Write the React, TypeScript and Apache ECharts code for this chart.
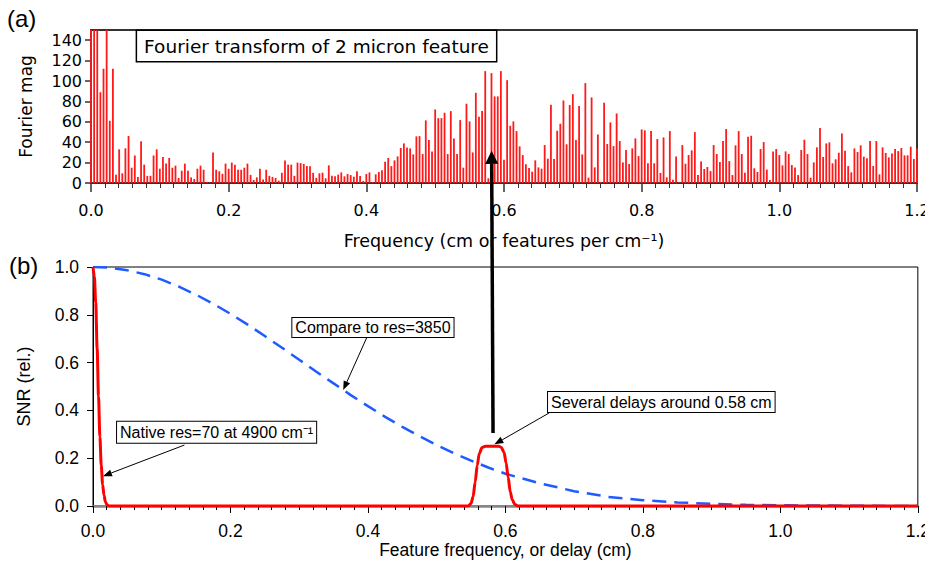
import React, { useEffect, useRef } from "react";
import * as echarts from "echarts";

// ---------- data ----------
// bin width of the Fourier transform (cm^-1); bar i sits at i * FREQ_STEP
const FREQ_STEP = 1 / 220;

// Fourier magnitude per bin (bars above 150 are clipped by the axis)
const FOURIER_MAG_A = [
  150, 150, 150, 89, 112, 150, 61, 112, 8, 33,
  9.5, 34, 46, 15, 27, 6, 41, 18, 7, 7,
  27, 33, 14, 25.5, 19, 24.5, 15, 17, 5, 12,
  19, 12, 5.5, 4, 14, 17, 13, 1, 0.5, 30,
  13, 11.5, 9, 19, 14, 20, 18, 13, 13, 15,
  19, 8, 3, 5.5, 14, 3.5, 13, 7, 6, 5,
  2.3, 10, 22, 18, 18, 7, 20, 19.5, 18.6, 16.6,
  16.5, 10, 5,
];
const FOURIER_MAG_B = [
  9.5, 10.1, 4.6, 17.3, 7.2, 6.5, 8.2, 10.4, 6.5, 8.8,
  7.8, 6.2, 11.4, 6.9, 2, 8.8, 10.4, 1, 8.5, 10.8,
  12.4, 20.9, 24.5, 16.6, 22.2, 26.1, 34.3, 38.8, 34.9, 33.9,
  28, 45.7, 46, 28.4, 61.4, 42.1, 31, 72.1, 63.6, 63.6,
  68.9, 28.4, 70.5, 43.7, 28.4, 61.7, 15, 77.7, 60.4, 30,
  88.4, 65, 70.5, 109.7, 4.6, 107.7, 84.9, 84.9, 109.7, 22.8,
  100.8, 56.1, 60.4, 50.9, 35.9, 27.4, 18.3, 14.7, 11.1, 22.2,
  15.3, 14, 37.2, 23.8, 76.7, 23.5, 51.2, 58.1, 80.9, 37.9,
  76.4, 87.1, 42.1, 75.4, 28, 97.9, 5.2, 83.9, 15.3, 47.6,
];
const FOURIER_MAG_C = [
  1, 78.7, 38.2, 59.4, 36.2, 68.2, 41.1, 20.2, 32.3, 18.6,
  33.9, 43.7, 26.4, 52.5, 51.6, 19.3, 50.9, 19.3, 43.1, 9.8,
  44.7, 5.5, 50.9, 3.3, 26.1, 0.5, 37.2, 18.9, 27.4, 32,
  49.9, 7.8, 21.2, 13.7, 15.7, 11.7, 37.2, 28.4, 20.6, 41.1,
  52.9, 21.5, 7.8, 36.9, 50.9, 28.4, 10.1, 45.4, 46.3, 14.4,
  10.8, 33.3, 40.1, 13.1, 2.9, 31, 33.3, 27.4, 17.3, 31,
  28.4, 17.6, 15.3, 7.8, 32.3, 42.4, 28.4, 5.2, 20.2, 34.9,
  53.9, 25.5, 38.8, 39.8, 19.3, 23.2, 29.7, 48.6, 31.7, 16.6,
  10.4, 33.9, 30.4, 36.9, 25.8, 24.2, 41.1, 16.6, 41.1, 8.5,
  34.9, 29.4, 25.1, 29, 33.3, 31.3, 34.3, 27.1, 27.1, 35.6,
  23.5, 33.9,
];
const FOURIER_MAG = [...FOURIER_MAG_A, ...FOURIER_MAG_B, ...FOURIER_MAG_C];

// native resolution SNR curve (red)
const NATIVE_X = [
  0, 0.002, 0.004, 0.006, 0.008, 0.01, 0.012, 0.014, 0.016, 0.018, 0.02, 0.023,
  0.546, 0.55, 0.553, 0.556, 0.559, 0.562, 0.566, 0.571, 0.58, 0.59, 0.594,
  0.598, 0.601, 0.604, 0.607, 0.61, 0.614, 0.618, 1.2,
];
const NATIVE_Y = [
  1, 0.96, 0.85, 0.66, 0.46, 0.29, 0.17, 0.09, 0.045, 0.018, 0.006, 0,
  0, 0.01, 0.04, 0.1, 0.17, 0.22, 0.245, 0.25, 0.25, 0.25, 0.245,
  0.225, 0.18, 0.12, 0.06, 0.025, 0.006, 0, 0,
];

// compare res=3850 SNR curve (blue dashed)
const COMPARE_X = [
  0, 0.025, 0.05, 0.075, 0.1, 0.125, 0.15, 0.175, 0.2, 0.225, 0.25, 0.275,
  0.3, 0.325, 0.35, 0.375, 0.4, 0.425, 0.45, 0.475, 0.5, 0.525, 0.55, 0.575,
  0.6, 0.625, 0.65, 0.7, 0.75, 0.8, 0.85, 0.9, 0.95, 1.0, 1.1, 1.2,
];
const COMPARE_Y = [
  1, 0.997, 0.986, 0.97, 0.947, 0.918, 0.884, 0.846, 0.804, 0.759, 0.711, 0.662,
  0.612, 0.562, 0.513, 0.464, 0.418, 0.373, 0.331, 0.292, 0.255, 0.221, 0.19, 0.161,
  0.135, 0.115, 0.095, 0.062, 0.038, 0.024, 0.015, 0.009, 0.005, 0.003, 0.001, 0,
];

const TOP_Y_TICK_INTERVAL = 20;
const X_TICK_INTERVAL = 0.2;
const SNR_TICK_INTERVAL = 0.2;

const TOP_FONT = "'DejaVu Sans', Verdana, sans-serif";
const BOT_FONT = "'Liberation Sans', Arial, Helvetica, sans-serif";

function arrow(
  tail: number[],
  tip: number[],
  lineWidth: number,
  headLen: number,
  headHalf: number
) {
  const dx = tip[0] - tail[0];
  const dy = tip[1] - tail[1];
  const len = Math.sqrt(dx * dx + dy * dy) || 1;
  const ux = dx / len;
  const uy = dy / len;
  const bx = tip[0] - ux * headLen;
  const by = tip[1] - uy * headLen;
  const px = -uy;
  const py = ux;
  return [
    {
      type: "line",
      z: 100,
      shape: { x1: tail[0], y1: tail[1], x2: bx, y2: by },
      style: { stroke: "#000", lineWidth },
    },
    {
      type: "polygon",
      z: 100,
      shape: {
        points: [
          [tip[0], tip[1]],
          [bx + px * headHalf, by + py * headHalf],
          [bx - px * headHalf, by - py * headHalf],
        ],
      },
      style: { fill: "#000" },
    },
  ];
}

export default function App() {
  const ref = useRef<HTMLDivElement>(null);

  useEffect(() => {
    if (!ref.current) return;
    const chart = echarts.init(ref.current, undefined, { renderer: "svg" });

    const barData = FOURIER_MAG.map((v, i) => [i * FREQ_STEP, v]);
    const nativeData = NATIVE_X.map((x, i) => [x, NATIVE_Y[i]]);
    const compareData = COMPARE_X.map((x, i) => [x, COMPARE_Y[i]]);

    const option: any = {
      animation: false,
      grid: [
        {
          left: 91,
          top: 30,
          width: 826,
          height: 153,
          show: true,
          borderColor: "#333",
          borderWidth: 2,
          backgroundColor: "transparent",
        },
        {
          left: 93,
          top: 267,
          width: 825,
          height: 239,
          show: true,
          borderColor: "#000",
          borderWidth: 1,
          backgroundColor: "transparent",
        },
      ],
      xAxis: [
        {
          type: "value",
          gridIndex: 0,
          min: 0,
          max: 1.2,
          interval: X_TICK_INTERVAL,
          axisLine: { show: true, onZero: false, lineStyle: { color: "#333", width: 2 } },
          axisTick: { show: true, length: 9, lineStyle: { color: "#333", width: 1.5 } },
          minorTick: { show: true, splitNumber: 10, length: 5, lineStyle: { color: "#333", width: 1 } },
          splitLine: { show: false },
          axisLabel: {
            margin: 19,
            color: "#000",
            fontFamily: TOP_FONT,
            fontSize: 16,
            formatter: (v: number) => v.toFixed(1),
          },
          name: "Frequency (cm or features per cm\u207B\u00B9)",
          nameLocation: "middle",
          nameGap: 49,
          nameTextStyle: { color: "#000", fontFamily: TOP_FONT, fontSize: 17.5 },
        },
        {
          type: "value",
          gridIndex: 1,
          min: 0,
          max: 1.2,
          interval: X_TICK_INTERVAL,
          axisLine: { show: true, onZero: false, lineStyle: { color: "#888", width: 2.5 } },
          axisTick: { show: true, length: 7, lineStyle: { color: "#000", width: 1 } },
          minorTick: { show: true, splitNumber: 10, length: 4, lineStyle: { color: "#000", width: 1 } },
          splitLine: { show: false },
          axisLabel: {
            margin: 16,
            color: "#000",
            fontFamily: BOT_FONT,
            fontSize: 17.5,
            formatter: (v: number) => v.toFixed(1),
          },
          name: "Feature frequency, or delay (cm)",
          nameLocation: "middle",
          nameGap: 33,
          nameTextStyle: { color: "#000", fontFamily: BOT_FONT, fontSize: 17.5 },
        },
      ],
      yAxis: [
        {
          type: "value",
          gridIndex: 0,
          min: 0,
          max: 150,
          interval: TOP_Y_TICK_INTERVAL,
          axisLine: { show: true, lineStyle: { color: "#333", width: 2 } },
          axisTick: { show: true, length: 6, lineStyle: { color: "#333", width: 1.5 } },
          splitLine: { show: false },
          axisLabel: {
            margin: 9,
            color: "#000",
            fontFamily: TOP_FONT,
            fontSize: 16,
            showMaxLabel: false,
          },
          name: "Fourier mag",
          nameLocation: "middle",
          nameGap: 57,
          nameTextStyle: { color: "#000", fontFamily: TOP_FONT, fontSize: 17 },
        },
        {
          type: "value",
          gridIndex: 1,
          min: 0,
          max: 1,
          interval: SNR_TICK_INTERVAL,
          axisLine: { show: true, lineStyle: { color: "#000", width: 1 } },
          axisTick: { show: true, length: 6, lineStyle: { color: "#000", width: 1 } },
          splitLine: { show: false },
          axisLabel: {
            margin: 14,
            color: "#000",
            fontFamily: BOT_FONT,
            fontSize: 17.5,
            formatter: (v: number) => v.toFixed(1),
          },
          name: "SNR (rel.)",
          nameLocation: "middle",
          nameGap: 60,
          nameTextStyle: { color: "#000", fontFamily: BOT_FONT, fontSize: 18 },
        },
      ],
      series: [
        {
          type: "bar",
          xAxisIndex: 0,
          yAxisIndex: 0,
          data: barData,
          barWidth: 1.8,
          itemStyle: { color: "#ff1a1a" },
          clip: true,
        },
        {
          type: "line",
          xAxisIndex: 1,
          yAxisIndex: 1,
          data: compareData,
          showSymbol: false,
          smooth: false,
          lineStyle: { color: "#1f5bff", width: 2.5, type: [14, 8] },
          z: 3,
        },
        {
          type: "line",
          xAxisIndex: 1,
          yAxisIndex: 1,
          data: nativeData,
          showSymbol: false,
          smooth: 0.3,
          smoothMonotone: "x",
          lineStyle: { color: "#ff0000", width: 3 },
          z: 4,
        },
      ],
    };

    chart.setOption(option);

    const px = (g: number, x: number, y: number) =>
      chart.convertToPixel({ gridIndex: g } as any, [x, y]) as number[];

    const boxText = (
      x: number,
      y: number,
      text: string,
      font: string,
      padding: number[],
      borderWidth: number,
      lineHeight: number
    ) => ({
      type: "text",
      x,
      y,
      z: 90,
      style: {
        text,
        font,
        fill: "#000",
        align: "left",
        verticalAlign: "top",
        backgroundColor: "#fff",
        borderColor: "#000",
        borderWidth,
        padding,
        lineHeight,
      },
    });

    const titleAnchor = px(0, 0.067, 149);
    const compareAnchor = px(1, 0.29, 0.787);
    const nativeAnchor = px(1, 0.035, 0.353);
    const severalAnchor = px(1, 0.662, 0.477);

    const graphic: any[] = [
      {
        type: "text",
        x: 7,
        y: 6,
        style: { text: "(a)", font: `24px ${BOT_FONT}`, fill: "#000" },
      },
      {
        type: "text",
        x: 9,
        y: 253,
        style: { text: "(b)", font: `24px ${BOT_FONT}`, fill: "#000" },
      },
      boxText(titleAnchor[0], titleAnchor[1], "Fourier transform of 2 micron feature", `18.5px ${TOP_FONT}`, [4, 7, 4, 7], 1.5, 22),
      boxText(compareAnchor[0], compareAnchor[1], "Compare to res=3850", `16px ${BOT_FONT}`, [1, 3, 1, 3], 1, 17),
      boxText(nativeAnchor[0], nativeAnchor[1], "Native res=70 at 4900 cm\u207B\u00B9", `16px ${BOT_FONT}`, [2, 3, 1, 3], 1, 18),
      boxText(severalAnchor[0], severalAnchor[1], "Several delays around 0.58 cm", `16px ${BOT_FONT}`, [2, 3, 1, 3], 1, 17),
      ...arrow(px(1, 0.398, 0.703), px(1, 0.364, 0.485), 1, 9, 3.5),
      ...arrow(px(1, 0.133, 0.255), px(1, 0.0145, 0.125), 1, 9, 3.5),
      ...arrow(px(1, 0.664, 0.39), px(1, 0.584, 0.258), 1, 9, 3.5),
      ...arrow(px(1, 0.582, 0.305), px(0, 0.582, 31.5), 3.5, 13, 6.5),
    ];

    chart.setOption({ graphic });

    return () => {
      chart.dispose();
    };
  }, []);

  return <div ref={ref} style={{ width: 933, height: 576, margin: -8 }} />;
}
